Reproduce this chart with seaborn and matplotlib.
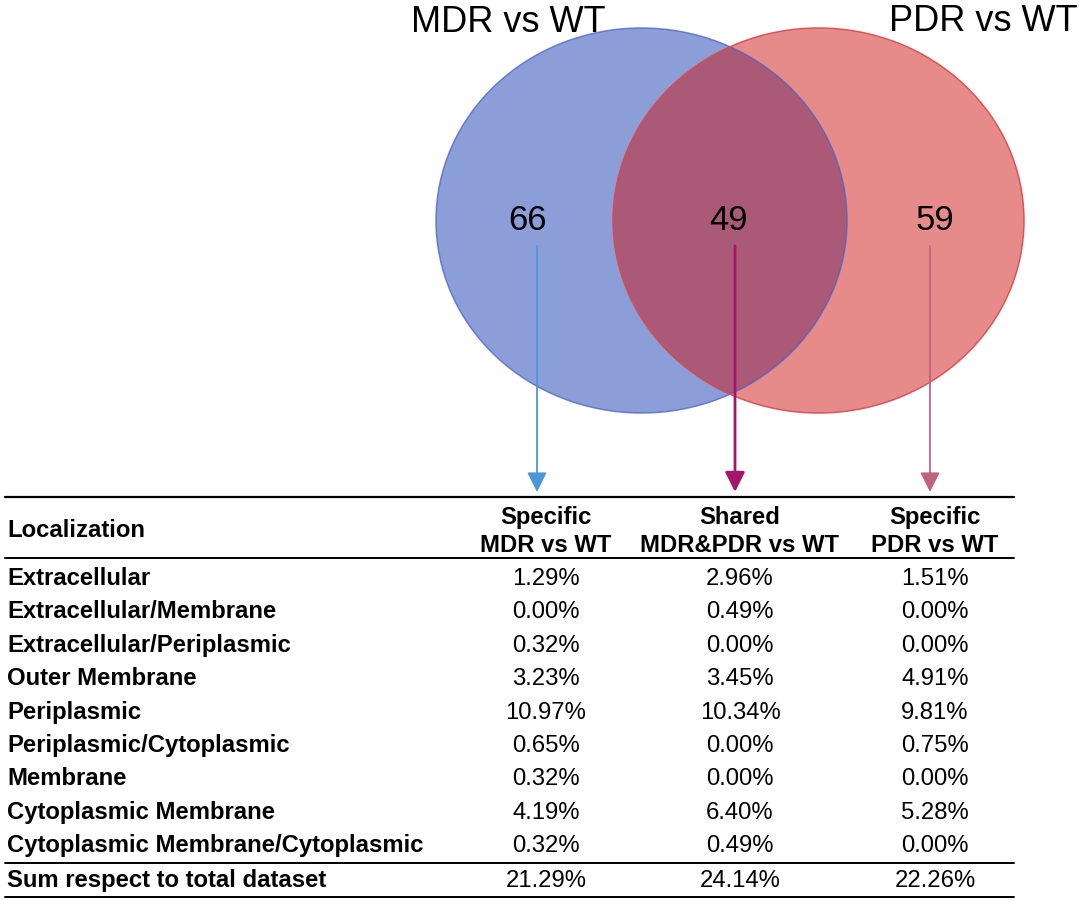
import numpy as np
import pandas as pd
import matplotlib
matplotlib.use("Agg")
import matplotlib.pyplot as plt
from matplotlib.patches import Ellipse
import seaborn as sns

# ---------------- data ----------------
set_titles = ["MDR vs WT", "PDR vs WT"]
venn_counts = [66, 49, 59]          # MDR only, shared, PDR only
col_headers = ["Specific\nMDR vs WT", "Shared\nMDR&PDR vs WT", "Specific\nPDR vs WT"]
localizations = [
    "Extracellular",
    "Extracellular/Membrane",
    "Extracellular/Periplasmic",
    "Outer Membrane",
    "Periplasmic",
    "Periplasmic/Cytoplasmic",
    "Membrane",
    "Cytoplasmic Membrane",
    "Cytoplasmic Membrane/Cytoplasmic",
]
specific_mdr = [1.29, 0.00, 0.32, 3.23, 10.97, 0.65, 0.32, 4.19, 0.32]
shared = [2.96, 0.49, 0.00, 3.45, 10.34, 0.00, 0.00, 6.40, 0.49]
specific_pdr = [1.51, 0.00, 0.00, 4.91, 9.81, 0.75, 0.00, 5.28, 0.00]
sum_label = "Sum respect to total dataset"
sum_values = [21.29, 24.14, 22.26]

table = pd.DataFrame({"loc": localizations, "c0": specific_mdr, "c1": shared, "c2": specific_pdr})

# ---------------- style ----------------
sns.set_theme(style="white")
plt.rcParams["font.family"] = ["Liberation Sans", "DejaVu Sans"]
plt.rcParams["text.color"] = "black"

W, H = 1084, 900
fig = plt.figure(figsize=(W / 100, H / 100), dpi=100)
ax = fig.add_axes([0, 0, 1, 1])
ax.set_xlim(0, W)
ax.set_ylim(H, 0)
ax.axis("off")

# ---------------- Venn ----------------
blue_fill, blue_edge = "#8C9ED8", "#4C62C4"
red_fill, red_edge = "#E68B8A", "#DA4850"
overlap_fill = "#AA5A77"
cy = 220.5
ew, eh = 411, 385
cxl, cxr = 641.5, 818.5

e_blue = Ellipse((cxl, cy), ew, eh, facecolor=blue_fill, edgecolor="none", zorder=1)
e_red = Ellipse((cxr, cy), ew, eh, facecolor=red_fill, edgecolor="none", zorder=2)
ax.add_patch(e_blue)
ax.add_patch(e_red)
e_ov = Ellipse((cxr, cy), ew, eh, facecolor=overlap_fill, edgecolor="none", zorder=3)
ax.add_patch(e_ov)
e_ov.set_clip_path(e_blue)
ax.add_patch(Ellipse((cxl, cy), ew, eh, facecolor="none", edgecolor=blue_edge, lw=1.1, alpha=0.75, zorder=4))
ax.add_patch(Ellipse((cxr, cy), ew, eh, facecolor="none", edgecolor=red_edge, lw=1.1, alpha=0.9, zorder=4))

ax.text(411, 32, set_titles[0], fontsize=26, ha="left", va="baseline", color="black", zorder=6)
ax.text(1078, 31, set_titles[1], fontsize=26, ha="right", va="baseline", color="black", zorder=6)

num_x = [527, 729, 935]
for x, v in zip(num_x, venn_counts):
    ax.text(x, 230, str(v), fontsize=25, ha="center", va="baseline", color="black", zorder=6)

arrow_x = [537, 735, 930]
arrow_cols = ["#4A98DA", "#A3176B", "#C0637F"]
arrow_lw = [1.3, 2.0, 1.3]
for x, c, lw in zip(arrow_x, arrow_cols, arrow_lw):
    ax.annotate("", xy=(x, 492), xytext=(x, 246),
                arrowprops=dict(arrowstyle="-|>,head_length=0.8,head_width=0.4",
                                color=c, lw=lw, mutation_scale=15,
                                shrinkA=0, shrinkB=0), zorder=5)

# ---------------- table ----------------
fs = 17.2
col_x = [546, 740, 935]
x0, x1 = 5, 1014
ax.plot([x0, x1], [497, 497], color="black", lw=1.6)
ax.plot([x0, x1], [558, 558], color="black", lw=1.4)
ax.plot([x0, x1], [863, 863], color="black", lw=1.4)
ax.plot([x0, x1], [897, 897], color="black", lw=1.4)

ax.text(7, 537, "Localization", fontsize=fs, fontweight="bold", ha="left", va="baseline", color="black")
for x, h in zip(col_x, col_headers):
    l1, l2 = h.split("\n")
    ax.text(x, 524, l1, fontsize=fs, fontweight="bold", ha="center", va="baseline", color="black")
    ax.text(x, 552, l2, fontsize=fs, fontweight="bold", ha="center", va="baseline", color="black")

row_base0, step = 585, 33.4
for i, row in table.iterrows():
    yb = row_base0 + i * step
    ax.text(7, yb, row["loc"], fontsize=fs, fontweight="bold", ha="left", va="baseline", color="black")
    for x, key in zip(col_x, ["c0", "c1", "c2"]):
        ax.text(x, yb, f"{row[key]:.2f}%", fontsize=fs, ha="center", va="baseline", color="black")

ax.text(7, 887, sum_label, fontsize=fs, fontweight="bold", ha="left", va="baseline", color="black")
for x, v in zip(col_x, sum_values):
    ax.text(x, 887, f"{v:.2f}%", fontsize=fs, ha="center", va="baseline", color="black")

fig.savefig("out.png", dpi=100)
